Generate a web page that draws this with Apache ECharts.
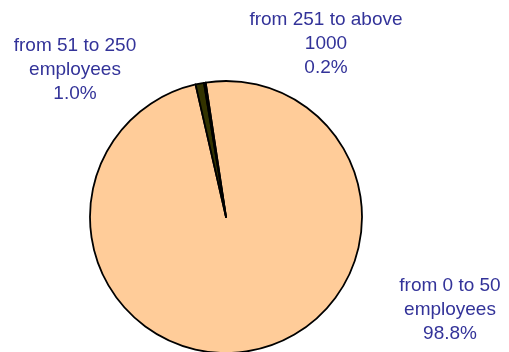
<!DOCTYPE html>
<html>
<head>
<meta charset="utf-8">
<script src="https://cdn.jsdelivr.net/npm/echarts@6/dist/echarts.min.js"></script>
<style>html,body{margin:0;padding:0;background:#fff}#c{width:509px;height:352px}</style>
</head>
<body>
<div id="c"></div>
<script>
var categories = ["from 0 to 50\nemployees", "from 51 to 250\nemployees", "from 251 to above\n1000"];
var shares = [98.8, 1.0, 0.2];
var colors = ["#FFCC99", "#333300", "#000000"];
var labelPos = [[450, 310], [75, 70], [326, 44]];

var chart = echarts.init(document.getElementById('c'), null, {renderer: 'canvas'});
chart.setOption({
  animation: false,
  backgroundColor: '#ffffff',
  series: [{
    type: 'pie',
    center: [226, 217],
    radius: 136,
    startAngle: 98.6,
    clockwise: true,
    avoidLabelOverlap: false,
    data: categories.map(function (c, i) {
      return {name: c, value: shares[i], itemStyle: {color: colors[i]}};
    }),
    itemStyle: {borderColor: '#000', borderWidth: 1.8},
    label: {
      show: true,
      position: 'outside',
      color: '#333399',
      fontFamily: 'Liberation Sans, Arial, sans-serif',
      fontSize: 19,
      lineHeight: 24,
      align: 'center',
      formatter: function (p) { return p.name + '\n' + shares[p.dataIndex].toFixed(1) + '%'; }
    },
    labelLine: {show: false},
    labelLayout: function (p) {
      var pos = labelPos[p.dataIndex];
      return {x: pos[0], y: pos[1], align: 'center', verticalAlign: 'middle'};
    }
  }]
});
</script>
</body>
</html>
